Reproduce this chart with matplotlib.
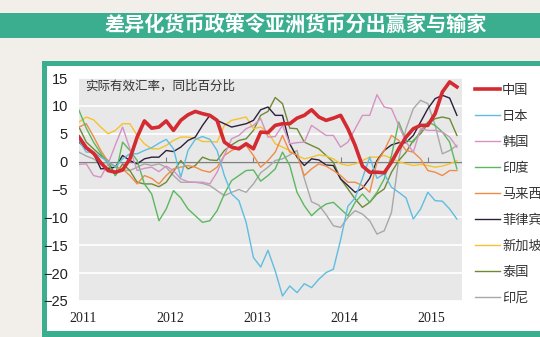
import matplotlib
matplotlib.use("Agg")
import matplotlib.pyplot as plt
from matplotlib.patches import Rectangle
import numpy as np

plt.rcParams['font.family'] = ['Noto Sans CJK SC', 'DejaVu Sans']
plt.rcParams['axes.unicode_minus'] = True

# monthly data, Jan 2011 - May 2015 (real effective exchange rate, % yoy)
china = [4.4, 2.5, 1.5, -0.2, -1.6, -1.9, -1.5, 0.5, 4.4, 7.3, 6.0, 6.2, 7.3, 5.6, 7.4, 8.4, 9.0, 8.6,
         8.3, 7.4, 3.5, 2.6, 2.3, 3.2, 2.3, 5.3, 5.2, 6.5, 6.8, 6.8, 7.8, 8.3, 9.3, 8.0, 7.4, 7.8,
         8.3, 5.9, 2.9, -0.8, -1.9, -1.9, -2.0, -0.1, 2.3, 4.4, 5.9, 6.5, 6.5, 8.6, 12.5, 14.3, 13.4]
japan = [3.8, 1.7, 1.7, 0.8, 0.0, -1.0, 0.5, 1.4, 1.4, 2.0, 2.5, 3.3, 4.0, 2.3, -2.8, 2.0, 4.0, 4.5,
         4.0, 2.0, -2.5, -5.8, -7.0, -10.9, -17.2, -18.9, -15.9, -19.6, -24.1, -22.3, -23.5, -21.9, -22.6, -21.1, -19.9, -19.3,
         -14.0, -8.0, -6.5, -3.0, 0.8, -3.0, -2.2, -4.6, -5.5, -6.5, -10.3, -8.5, -5.5, -7.0, -7.1, -8.5, -10.3]
korea = [-0.5, -0.4, -2.5, -2.8, -0.4, 3.0, 6.2, 2.3, -1.6, -1.2, -1.0, -1.8, -0.8, -1.6, -3.1, -3.6, -3.7, -3.7,
         -4.0, -1.9, 1.1, 4.1, 4.7, 5.9, 6.5, 7.7, 4.4, 4.5, 6.5, 3.2, 3.4, 3.5, 6.5, 5.6, 4.7, 4.7,
         2.6, 3.5, 5.9, 8.3, 8.3, 12.0, 9.8, 9.5, 6.5, 3.5, 1.7, 5.9, 5.6, 5.6, 5.3, 4.4, 2.6]
india = [9.2, 6.0, 3.5, 1.5, -0.5, -2.5, 3.5, 2.0, 0.2, -4.0, -5.8, -10.6, -8.5, -5.2, -6.5, -8.5, -9.7, -10.9,
         -10.6, -8.8, -5.8, -3.4, -2.5, -1.6, -1.5, -3.5, -2.5, -1.3, 1.7, -0.7, -5.5, -7.9, -9.7, -8.5, -7.6, -7.3,
         -8.5, -9.7, -7.3, -5.8, -7.3, -5.5, -3.1, 1.1, 7.1, 3.8, 3.5, 5.5, 7.1, 6.5, 5.3, 3.5, -1.3]
malaysia = [6.2, 6.8, 4.5, 2.0, 0.0, -1.0, -1.3, -2.5, -4.0, -2.5, -3.0, -4.0, -2.5, -1.3, -1.0, -0.7, -1.0, -1.6,
            -1.9, -1.0, 1.1, 2.0, 2.6, 2.9, 1.1, -1.0, 0.2, 1.7, 4.7, 1.7, 1.2, -2.5, -1.3, -0.4, -0.8, -1.6,
            -2.5, -3.7, -3.7, -4.3, -5.5, -0.1, 2.0, 4.7, 3.8, 2.0, 1.7, 0.5, -1.6, -1.9, -2.5, -1.6, -1.6]
philippines = [3.5, 2.3, 1.5, -1.3, -1.2, -1.0, 1.1, 0.2, -0.4, 0.5, 0.8, 0.8, 2.0, 1.8, 2.6, 3.8, 4.4, 6.5,
               8.3, 7.4, 6.8, 6.2, 6.5, 6.8, 7.4, 9.3, 9.8, 8.3, 8.3, 3.2, 0.8, -0.7, 0.5, 0.3, -0.6, -0.7,
               -3.1, -4.3, -5.5, -4.8, -3.0, 0.2, 2.0, 3.0, 3.4, 3.4, 4.7, 7.1, 9.5, 11.3, 11.9, 11.4, 8.3]
singapore = [7.1, 8.0, 7.5, 6.2, 5.0, 5.6, 6.8, 6.8, 4.7, 3.2, 2.3, 2.3, 2.9, 3.8, 4.4, 4.4, 4.2, 3.6,
             3.6, 3.5, 6.5, 7.4, 7.7, 8.0, 5.9, 6.2, 5.3, 3.2, 2.6, 2.0, 1.1, 0.5, 0.8, 1.2, 1.0, 0.5,
             -0.4, -0.7, -0.4, 0.2, 0.8, 0.8, 1.1, 0.6, 0.0, -0.4, -0.7, -0.5, -0.7, -1.0, -0.8, -0.4, 0.2]
thailand = [6.2, 3.5, 2.3, 1.1, 0.2, -2.5, -0.4, -1.6, -3.7, -4.0, -4.0, -4.5, -3.7, -1.8, 0.2, -1.3, -0.7, 0.8,
            0.3, 0.2, 2.0, 3.0, 3.8, 4.1, 5.6, 8.3, 9.0, 11.5, 10.4, 6.0, 5.9, 3.5, 2.9, 2.3, 1.1, -0.1,
            -3.1, -4.9, -6.7, -8.2, -7.3, -5.8, -4.9, -1.9, 0.2, 1.7, 3.8, 5.0, 6.8, 7.7, 8.0, 7.7, 4.7]
indonesia = [1.7, 1.0, 0.5, -0.4, -0.1, -0.8, -1.5, -1.6, -1.0, -0.4, -0.7, -0.4, -1.0, -2.5, -3.7, -3.7, -3.7, -3.9,
             -4.3, -5.2, -6.1, -5.5, -5.0, -5.5, -4.0, -2.0, -1.0, 0.2, 0.5, 1.2, 2.0, -3.0, -7.2, -7.8, -9.5, -11.5,
             -11.8, -10.0, -8.8, -9.4, -10.6, -13.0, -12.4, -9.1, 0.5, 5.9, 9.5, 11.0, 10.4, 6.5, 1.4, 2.0, 2.9]

names = ['中国', '日本', '韩国', '印度', '马来西亚', '菲律宾', '新加坡', '泰国', '印尼']
series = [china, japan, korea, india, malaysia, philippines, singapore, thailand, indonesia]
colors = ['#d42a31', '#5fbde0', '#d592c4', '#5cb85f', '#f08c46', '#2d1f3d', '#f5c330', '#6f8a35', '#a8a8a8']
years = ['2011', '2012', '2013', '2014', '2015']

W, H = 540, 337
fig = plt.figure(figsize=(W / 100, H / 100), dpi=100)
fig.patch.set_facecolor('#f2efea')

def px_rect(x0, y0, x1, y1, color):
    fig.patches.append(Rectangle((x0 / W, 1 - y1 / H), (x1 - x0) / W, (y1 - y0) / H,
                                 transform=fig.transFigure, facecolor=color, edgecolor='none', zorder=-5))

green = '#3aae8f'
px_rect(0, 13, W, 38, green)
px_rect(42, 61, W + 5, H + 5, green)
px_rect(47, 66, W + 5, 331, 'white')
fig.text(296 / W, 1 - 25.5 / H, '差异化货币政策令亚洲货币分出赢家与输家', color='white',
         fontsize=14.5, fontweight='heavy', ha='center', va='center')

ax = fig.add_axes([79 / W, 1 - 301 / H, 383 / W, 223 / H])
ax.set_zorder(2)
ax.set_facecolor('#e8e8e8')
x = np.arange(len(china))
for s, c, n in list(zip(series, colors, names))[::-1]:
    lw = 2.6 if n == '中国' else 1.0
    ax.plot(x, s, color=c, lw=lw, label=n, zorder=5 if n == '中国' else 3)

ax.set_xlim(0, 52.7)
ax.set_ylim(-25, 15)
ax.set_yticks(range(-25, 16, 5))
ax.yaxis.grid(True, color='white', lw=1.2)
ax.set_axisbelow(True)
ax.axhline(0, color='#7f7f7f', lw=1.0, zorder=2)
ax.vlines([12, 24, 36, 48], 0, 0.8, color='#7f7f7f', lw=0.8, zorder=2)
ax.set_xticks([0.5, 12.5, 24.5, 36.5, 48.5])
ax.set_xticklabels(years, family='Liberation Serif', fontsize=10, color='#222')
ax.tick_params(length=0, pad=8)
for lab in ax.get_yticklabels():
    lab.set_family('Liberation Sans')
    lab.set_fontsize(10.5)
    lab.set_color('#222')
for sp in ax.spines.values():
    sp.set_visible(False)

ax.text(0.016, 0.964, '实际有效汇率，同比百分比', transform=ax.transAxes,
        fontsize=9, color='#333', va='center', ha='left')

handles, labels = ax.get_legend_handles_labels()
handles, labels = handles[::-1], labels[::-1]
leg = fig.legend(handles, labels, loc='upper left', bbox_to_anchor=(475 / W, 1 - 84 / H),
                 frameon=False, fontsize=9.5, handlelength=1.9, handletextpad=0.15,
                 labelspacing=0.98, borderaxespad=0, borderpad=0)
leg.set_zorder(3)
for t in leg.get_texts():
    t.set_color('#333')

fig.savefig('out.png', dpi=100, facecolor=fig.get_facecolor())
